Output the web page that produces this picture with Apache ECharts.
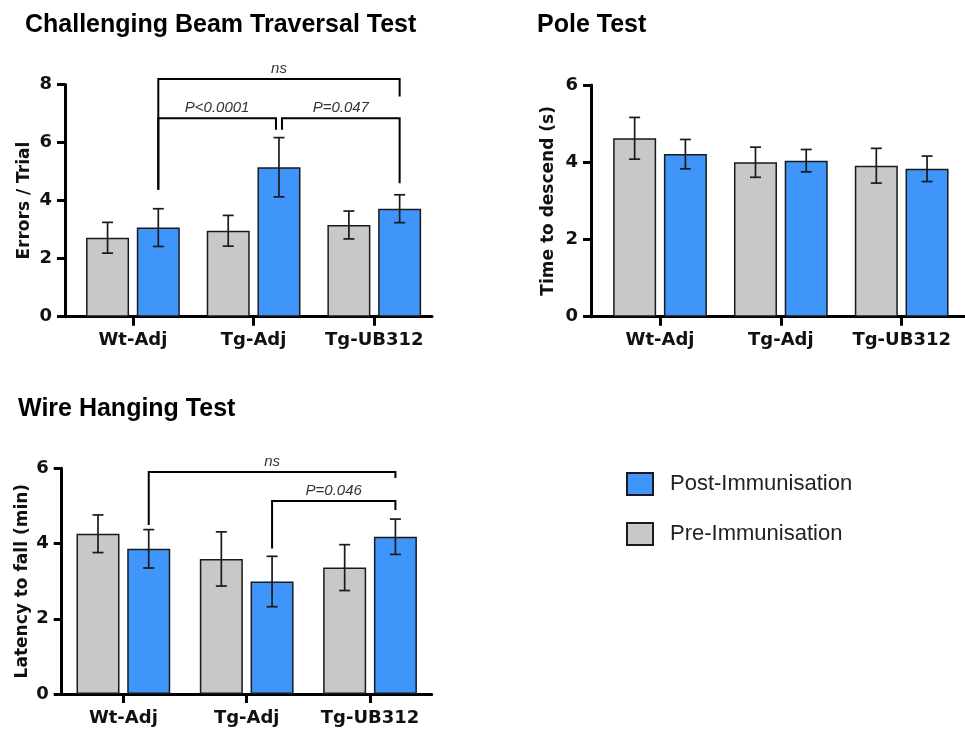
<!DOCTYPE html>
<html>
<head>
<meta charset="utf-8">
<script src="https://cdn.jsdelivr.net/npm/echarts@6/dist/echarts.min.js"></script>
<style>
  html, body { margin: 0; padding: 0; background: #fff; }
  #chart { width: 965px; height: 729px; }
</style>
</head>
<body>
<div id="chart"></div>
<script>
const categories = ['Wt-Adj', 'Tg-Adj', 'Tg-UB312']

// Challenging Beam Traversal Test (errors / trial)
const beamPre = [2.72, 2.96, 3.16]
const beamPreErr = [0.53, 0.53, 0.48]
const beamPost = [3.07, 5.15, 3.72]
const beamPostErr = [0.65, 1.02, 0.48]
// brackets: [fromCat, toCat, level, leftLegBottom, rightLegBottom, leftNudgePx, rightNudgePx]
const beamBrackets = [
  [0, 2, 8.19, 4.37, 7.59, 0, 0],
  [0, 1, 6.84, 4.37, 6.44, 0, -3],
  [1, 2, 6.84, 6.44, 4.60, 3, 0]
]
const beamBracketLabels = ['ns', 'P<0.0001', 'P=0.047']

// Pole Test (s)
const polePre = [4.62, 4.00, 3.91]
const polePreErr = [0.54, 0.39, 0.45]
const polePost = [4.21, 4.04, 3.83]
const polePostErr = [0.38, 0.29, 0.33]

// Wire Hanging Test (min)
const wirePre = [4.26, 3.59, 3.36]
const wirePreErr = [0.50, 0.72, 0.61]
const wirePost = [3.86, 2.99, 4.18]
const wirePostErr = [0.51, 0.67, 0.47]
const wireBrackets = [
  [0, 2, 5.90, 4.49, 5.74, 0, 0],
  [1, 2, 5.13, 3.87, 4.89, 0, 0]
]
const wireBracketLabels = ['ns', 'P=0.046']

const yStep = 2
const PRE = 'Pre-Immunisation'
const POST = 'Post-Immunisation'
const GREY = '#c8c8c8'
const BLUE = '#3f95f9'
const INK = '#1a1a1a'
const AXIS_FONT = 'DejaVu Sans'
const BAR_W = 43
const BAR_GAP = '18%'
const HALF_STEP = (BAR_W + BAR_W * 0.18) / 2

const chart = echarts.init(document.getElementById('chart'))

const panels = [
  {
    frame: { left: 65, top: 84.5, width: 367, height: 232.2 },
    bars: { left: 72.6, top: 84.5, width: 362, height: 232.2 },
    max: 8, name: 'Errors / Trial', nameGap: 32,
    pre: beamPre, preErr: beamPreErr, post: beamPost, postErr: beamPostErr,
    brackets: beamBrackets, labels: beamBracketLabels
  },
  {
    frame: { left: 591, top: 85, width: 374, height: 231.7 },
    bars: { left: 599.6, top: 85, width: 362.5, height: 231.7 },
    max: 6, name: 'Time to descend (s)', nameGap: 34,
    pre: polePre, preErr: polePreErr, post: polePost, postErr: polePostErr,
    brackets: [], labels: []
  },
  {
    frame: { left: 61.7, top: 468.3, width: 370, height: 225.7 },
    bars: { left: 61.7, top: 468.3, width: 370, height: 225.7 },
    max: 6, name: 'Latency to fall (min)', nameGap: 31,
    pre: wirePre, preErr: wirePreErr, post: wirePost, postErr: wirePostErr,
    brackets: wireBrackets, labels: wireBracketLabels
  }
]

const errorBarItem = (offset) => (params, api) => {
  const x = api.coord([api.value(0), 0])[0] + offset
  const hi = api.coord([api.value(0), api.value(1) + api.value(2)])[1]
  const lo = api.coord([api.value(0), api.value(1) - api.value(2)])[1]
  const style = { stroke: INK, lineWidth: 1.7 }
  return {
    type: 'group',
    children: [
      { type: 'line', shape: { x1: x, y1: hi, x2: x, y2: lo }, style },
      { type: 'line', shape: { x1: x - 5.5, y1: hi, x2: x + 5.5, y2: hi }, style },
      { type: 'line', shape: { x1: x - 5.5, y1: lo, x2: x + 5.5, y2: lo }, style }
    ]
  }
}

const bracketItem = (labels) => (params, api) => {
  const x1 = api.coord([api.value(0), 0])[0] + HALF_STEP + api.value(5)
  const x2 = api.coord([api.value(1), 0])[0] + HALF_STEP + api.value(6)
  const y = api.coord([0, api.value(2)])[1]
  const yl = api.coord([0, api.value(3)])[1]
  const yr = api.coord([0, api.value(4)])[1]
  return {
    type: 'group',
    children: [
      {
        type: 'polyline',
        shape: { points: [[x1, yl], [x1, y], [x2, y], [x2, yr]] },
        style: { stroke: '#000', lineWidth: 2, fill: null }
      },
      {
        type: 'text',
        style: {
          text: labels[params.dataIndex],
          x: (x1 + x2) / 2, y: y - 3,
          align: 'center', verticalAlign: 'bottom',
          fontFamily: 'Liberation Sans', fontStyle: 'italic',
          fontSize: 15, fill: '#333'
        }
      }
    ]
  }
}

const grid = []
const xAxis = []
const yAxis = []
const series = []

panels.forEach((p, i) => {
  const fg = i * 2
  const bg = i * 2 + 1
  grid.push(p.frame, p.bars)

  // frame: axis lines and y labels
  xAxis.push({
    gridIndex: fg, type: 'value', min: 0, max: 1,
    axisLine: { show: true, onZero: false, lineStyle: { color: '#000', width: 3 } },
    axisTick: { show: false }, axisLabel: { show: false }, splitLine: { show: false }
  })
  yAxis.push({
    gridIndex: fg, type: 'value', min: 0, max: p.max, interval: yStep,
    name: p.name, nameLocation: 'middle', nameGap: p.nameGap,
    nameTextStyle: { fontFamily: AXIS_FONT, fontWeight: 'bold', fontSize: 17, color: '#111' },
    axisLine: { show: true, lineStyle: { color: '#000', width: 3 } },
    axisTick: { show: true, length: 8, lineStyle: { color: '#000', width: 3 } },
    axisLabel: { fontFamily: AXIS_FONT, fontWeight: 'bold', fontSize: 18, color: '#111', margin: 13 },
    splitLine: { show: false }
  })

  // bars grid: categories
  xAxis.push({
    gridIndex: bg, type: 'category', data: categories,
    axisLine: { show: false },
    axisTick: { show: true, alignWithLabel: true, length: 9, lineStyle: { color: '#000', width: 3 } },
    axisLabel: { interval: 0, fontFamily: AXIS_FONT, fontWeight: 'bold', fontSize: 18, color: '#111', margin: 15 }
  })
  yAxis.push({ gridIndex: bg, type: 'value', min: 0, max: p.max, show: false })

  const barStyle = (c) => ({ color: c, borderColor: INK, borderWidth: 1.5 })
  series.push(
    {
      name: PRE, type: 'bar', xAxisIndex: bg, yAxisIndex: bg,
      data: p.pre, barWidth: BAR_W, barGap: BAR_GAP, itemStyle: barStyle(GREY)
    },
    {
      name: POST, type: 'bar', xAxisIndex: bg, yAxisIndex: bg,
      data: p.post, barWidth: BAR_W, barGap: BAR_GAP, itemStyle: barStyle(BLUE)
    },
    {
      type: 'custom', xAxisIndex: bg, yAxisIndex: bg, z: 5,
      renderItem: errorBarItem(-HALF_STEP),
      data: categories.map((c, k) => [k, p.pre[k], p.preErr[k]])
    },
    {
      type: 'custom', xAxisIndex: bg, yAxisIndex: bg, z: 5,
      renderItem: errorBarItem(HALF_STEP),
      data: categories.map((c, k) => [k, p.post[k], p.postErr[k]])
    }
  )
  if (p.brackets.length) {
    series.push({
      type: 'custom', xAxisIndex: bg, yAxisIndex: bg, z: 6, clip: false,
      renderItem: bracketItem(p.labels),
      data: p.brackets
    })
  }
})

const titleStyle = { fontFamily: 'Liberation Sans', fontWeight: 'bold', fontSize: 25, color: '#000' }

chart.setOption({
  animation: false,
  title: [
    { text: 'Challenging Beam Traversal Test', left: 20, top: 8, textStyle: titleStyle },
    { text: 'Pole Test', left: 532, top: 8, textStyle: titleStyle },
    { text: 'Wire Hanging Test', left: 13, top: 392, textStyle: titleStyle }
  ],
  legend: {
    data: [POST, PRE],
    orient: 'vertical',
    left: 621, top: 467,
    icon: 'rect',
    itemWidth: 26, itemHeight: 22, itemGap: 26,
    textStyle: { fontFamily: 'Liberation Sans', fontSize: 22, color: '#222', padding: [0, 0, 0, 12] }
  },
  grid,
  xAxis,
  yAxis,
  series
})

window.addEventListener('resize', () => {
  chart.resize()
})
</script>
</body>
</html>
